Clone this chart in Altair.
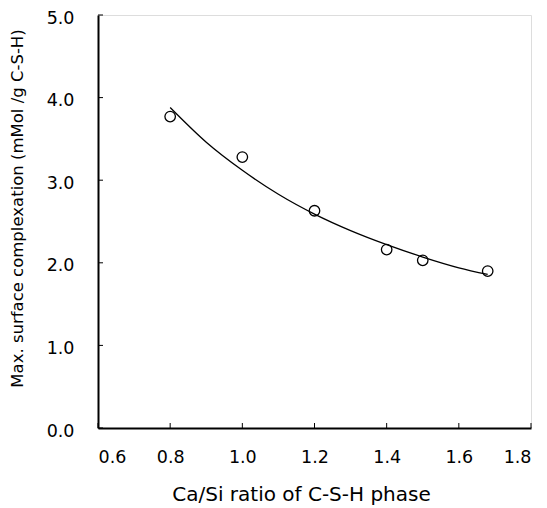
import altair as alt
import pandas as pd

# measured points
ca_si = [0.8, 1.0, 1.2, 1.4, 1.5, 1.68]
complexation = [3.77, 3.28, 2.63, 2.16, 2.03, 1.90]

# fitted curve
curve_x = [0.8, 0.9, 1.0, 1.1, 1.2, 1.3, 1.4, 1.5, 1.6, 1.68]
curve_y = [3.88, 3.46, 3.12, 2.83, 2.59, 2.39, 2.22, 2.07, 1.94, 1.86]

x_ticks = [0.6, 0.8, 1.0, 1.2, 1.4, 1.6, 1.8]
y_ticks = [0.0, 1.0, 2.0, 3.0, 4.0, 5.0]

W, H = 433, 413
FONT = "DejaVu Sans"

pts = pd.DataFrame({"x": ca_si, "y": complexation})
crv = pd.DataFrame({"x": curve_x, "y": curve_y})
xt = pd.DataFrame({"v": x_ticks})
yt = pd.DataFrame({"v": y_ticks})

xscale = alt.Scale(domain=[0.6, 1.8], nice=False, zero=False)
yscale = alt.Scale(domain=[0.0, 5.0], nice=False, zero=False)

xaxis = alt.Axis(values=x_ticks, format=".1f", ticks=False, labelPadding=20,
                 labelFontSize=17.5, labelFont=FONT, labelColor="black",
                 domainColor="black", domainWidth=2, grid=False,
                 title="Ca/Si ratio of C-S-H phase", titleFontSize=20,
                 titleFont=FONT, titleFontWeight="normal", titleColor="black",
                 titleX=203, titleY=66, titleBaseline="middle")
yaxis = alt.Axis(values=y_ticks, format=".1f", ticks=False, labelPadding=24,
                 labelOffset=3, labelFontSize=17.5, labelFont=FONT,
                 labelColor="black", domainColor="black", domainWidth=2,
                 grid=False,
                 title="Max. surface complexation (mMol /g C-S-H)",
                 titleFontSize=16.5, titleFont=FONT, titleFontWeight="normal",
                 titleColor="black", titleX=-81, titleY=193,
                 titleBaseline="middle", titleAngle=270)

line = alt.Chart(crv).mark_line(color="black", strokeWidth=1.3,
                                interpolate="monotone").encode(
    x=alt.X("x:Q", scale=xscale, axis=xaxis),
    y=alt.Y("y:Q", scale=yscale, axis=yaxis),
)

points = alt.Chart(pts).mark_point(shape="circle", filled=False, color="black",
                                   size=110, strokeWidth=1.3, opacity=1).encode(
    x=alt.X("x:Q", scale=xscale),
    y=alt.Y("y:Q", scale=yscale),
)

xtick_marks = alt.Chart(xt).mark_rule(color="black", strokeWidth=1).encode(
    x=alt.X("v:Q", scale=xscale),
    y=alt.value(H),
    y2=alt.value(H - 5),
)
ytick_marks = alt.Chart(yt).mark_rule(color="black", strokeWidth=1).encode(
    y=alt.Y("v:Q", scale=yscale),
    x=alt.value(0),
    x2=alt.value(5),
)

chart = alt.layer(xtick_marks, ytick_marks, line, points).properties(
    width=W, height=H,
    autosize=alt.AutoSizeParams(type="none"),
    padding={"left": 90, "top": 7, "right": 8, "bottom": 80},
).configure_view(stroke="black", strokeWidth=1.5).configure(background="white")

chart.save("out.html", embed_options={"renderer": "svg", "actions": False})
